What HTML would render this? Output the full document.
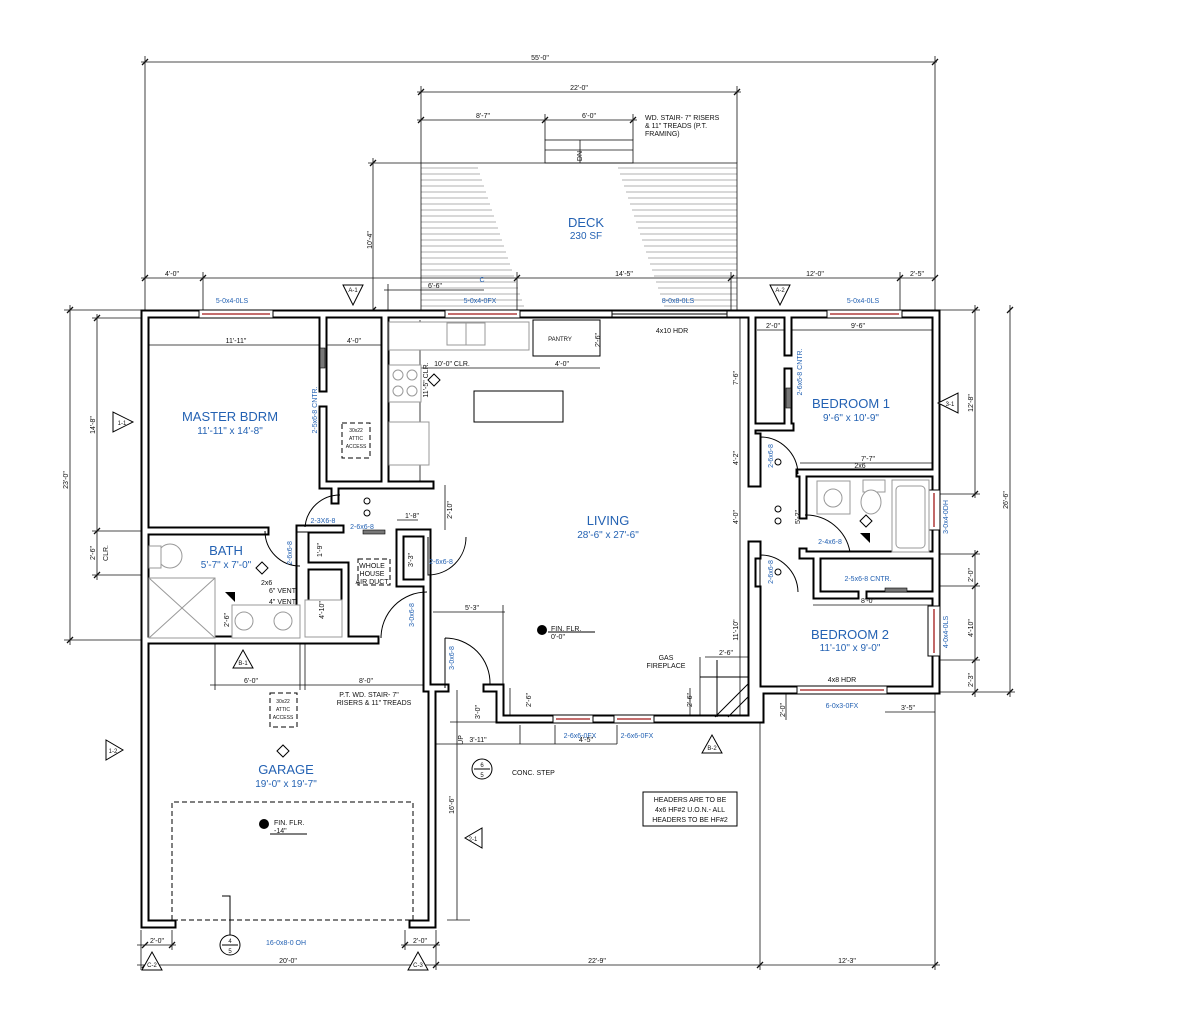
<!DOCTYPE html>
<html><head><meta charset="utf-8"><style>
html,body{margin:0;padding:0;background:#fff;}
svg{display:block;font-family:"Liberation Sans",sans-serif;}
.d{font-size:7px;fill:#111;text-anchor:middle;}
.b{fill:#2462b3;text-anchor:middle;}
.bs{font-size:7px;fill:#2462b3;text-anchor:middle;}
.dl{stroke:#111;stroke-width:0.8;fill:none;}
.h{stroke:#b0b0b0;stroke-width:1;}
.f{stroke:#999;stroke-width:1;fill:#fff;}
</style></head><body>
<svg width="1180" height="1010" viewBox="0 0 1180 1010" xmlns="http://www.w3.org/2000/svg">
<defs>
<g id="w" fill="none">
<path d="M172 924 H145 V314 H936 V690 H757 V719 H500 V688 H487 M445 688 H432 V924 H413"/>
<path d="M323 318 V388 M323 410 V485 H385 M385 318 V485 H430"/>
<path d="M149 531 H265 M300 535 V640 M300 529 H340 M335 485 V500"/>
<path d="M305 566 H345 M345 566 V640 M305 535 V640"/>
<path d="M149 640 H375 M400 533 V583 H427 V533 H400 M427 583 V688"/>
<path d="M752 318 V483 M752 545 V719 M788 318 V352 M788 372 V427 M757 427 H790"/>
<path d="M800 473 H932 M803 473 V515 M803 552 V555 H932 M817 555 V595 H855 M870 595 H932 M760 690 V719"/>
<path d="M757 437 V483 M757 545 V555 M757 590 V688"/>
</g>
</defs>
<!-- deck hatch -->
<g class="h">
<line x1="421" y1="168" x2="478" y2="168"/><line x1="421" y1="174" x2="480" y2="174"/><line x1="421" y1="180" x2="482" y2="180"/><line x1="421" y1="186" x2="484" y2="186"/><line x1="421" y1="192" x2="486" y2="192"/><line x1="421" y1="198" x2="488" y2="198"/><line x1="421" y1="204" x2="490" y2="204"/><line x1="421" y1="210" x2="492" y2="210"/><line x1="421" y1="216" x2="494" y2="216"/><line x1="421" y1="222" x2="496" y2="222"/><line x1="421" y1="228" x2="498" y2="228"/><line x1="421" y1="234" x2="500" y2="234"/><line x1="421" y1="240" x2="502" y2="240"/><line x1="421" y1="246" x2="504" y2="246"/><line x1="421" y1="252" x2="506" y2="252"/><line x1="421" y1="258" x2="508" y2="258"/><line x1="421" y1="264" x2="510" y2="264"/><line x1="421" y1="270" x2="512" y2="270"/><line x1="421" y1="276" x2="514" y2="276"/><line x1="421" y1="282" x2="516" y2="282"/><line x1="421" y1="288" x2="518" y2="288"/><line x1="421" y1="294" x2="520" y2="294"/><line x1="421" y1="300" x2="522" y2="300"/><line x1="421" y1="306" x2="524" y2="306"/>
<line x1="618" y1="168" x2="737" y2="168"/><line x1="620" y1="174" x2="737" y2="174"/><line x1="622" y1="180" x2="737" y2="180"/><line x1="624" y1="186" x2="737" y2="186"/><line x1="626" y1="192" x2="737" y2="192"/><line x1="628" y1="198" x2="737" y2="198"/><line x1="630" y1="204" x2="737" y2="204"/><line x1="632" y1="210" x2="737" y2="210"/><line x1="634" y1="216" x2="737" y2="216"/><line x1="636" y1="222" x2="737" y2="222"/><line x1="638" y1="228" x2="737" y2="228"/><line x1="640" y1="234" x2="737" y2="234"/><line x1="642" y1="240" x2="737" y2="240"/><line x1="644" y1="246" x2="737" y2="246"/><line x1="646" y1="252" x2="737" y2="252"/><line x1="648" y1="258" x2="737" y2="258"/><line x1="650" y1="264" x2="737" y2="264"/><line x1="652" y1="270" x2="737" y2="270"/><line x1="654" y1="276" x2="737" y2="276"/><line x1="656" y1="282" x2="737" y2="282"/><line x1="658" y1="288" x2="737" y2="288"/><line x1="660" y1="294" x2="737" y2="294"/><line x1="662" y1="300" x2="737" y2="300"/><line x1="664" y1="306" x2="737" y2="306"/>
</g>
<g class="dl">
<path d="M421 163 H737 V310 M421 163 V310"/>
<rect x="545" y="140" width="88" height="23"/><line x1="545" y1="150" x2="633" y2="150"/>
<line x1="580" y1="140" x2="580" y2="163"/>
<!-- top dims -->
<path d="M141 62 H937 M145 56 V310 M935 56 V310"/>
<path d="M417 92 H741 M421 86 V163 M737 86 V163"/>
<path d="M417 120 H637 M545 114 V140 M633 114 V140"/>
<path d="M373 158 V310 M368 163 H421"/>
<path d="M141 278 H935 M203 272 V310 M517 272 V310 M731 272 V310 M900 272 V310"/>
<path d="M384 290 H484 M388 284 V310"/>
<!-- left dims -->
<path d="M70 305 V645 M64 310 H145 M64 640 H145"/>
<path d="M97 314 V580 M92 318 H145 M92 531 H145 M92 575 H145"/>
<!-- right dims -->
<path d="M975 305 V498 M940 310 H980 M940 494 H980"/>
<path d="M1010 305 V697 M940 692 H1015"/>
<path d="M975 550 V697 M940 554 H980 M940 586 H980 M940 660 H980"/>
<!-- bottom dims -->
<path d="M137 965 H940 M141 930 V970 M436 930 V970 M760 722 V970 M935 692 V970"/>
<path d="M137 945 H176 M172 930 V950 M401 945 H440 M405 930 V950"/>
<!-- interior dims -->
<path d="M149 345 H323 M323 345 H385 M394 368 H600 M420 320 V485 M445 485 V530 M397 520 H418 M433 612 H505 M503 605 V690"/>
<path d="M757 330 H790 H932 M800 463 H932 M813 605 H932 M740 318 V715 M705 657 H752 M700 657 V717 M690 688 V717 M510 688 V717"/>
<path d="M436 744 H520 V725 M520 744 H617 M555 725 V744 M617 725 V744 M450 722 H500 V690"/>
<path d="M457 690 V920 M447 920 H470"/>
<path d="M215 640 V690 M210 685 H432 M300 640 V690 M305 640 V690"/>
<path d="M786 690 V720 M885 712 H935"/>
</g>
<!-- ticks -->
<g stroke="#111" stroke-width="1.3">
<path d="M142 65 l6 -6 M932 65 l6 -6 M418 95 l6 -6 M734 95 l6 -6 M418 123 l6 -6 M542 123 l6 -6 M630 123 l6 -6 M142 281 l6 -6 M200 281 l6 -6 M514 281 l6 -6 M728 281 l6 -6 M897 281 l6 -6 M932 281 l6 -6 M142 968 l6 -6 M433 968 l6 -6 M757 968 l6 -6 M932 968 l6 -6 M142 948 l6 -6 M169 948 l6 -6 M402 948 l6 -6 M433 948 l6 -6 M370 166 l6 -6 M370 313 l6 -6 M67 313 l6 -6 M67 643 l6 -6 M94 321 l6 -6 M94 534 l6 -6 M94 578 l6 -6 M972 313 l6 -6 M972 497 l6 -6 M1007 313 l6 -6 M1007 695 l6 -6 M972 557 l6 -6 M972 589 l6 -6 M972 663 l6 -6 M972 695 l6 -6"/>
</g>
<!-- walls -->
<use href="#w" stroke="#000" stroke-width="9" stroke-linecap="square"/>
<use href="#w" stroke="#fff" stroke-width="5" stroke-linecap="square"/>
<!-- windows -->
<g fill="#fff" stroke="#000" stroke-width="1">
<rect x="199" y="310" width="74" height="8"/><rect x="445" y="310" width="75" height="8"/><rect x="612" y="311" width="115" height="6"/><rect x="827" y="310" width="75" height="8"/>
<rect x="553" y="715" width="40" height="8"/><rect x="614" y="715" width="40" height="8"/><rect x="797" y="686" width="90" height="8"/>
<rect x="928" y="490" width="12" height="40"/><rect x="928" y="606" width="12" height="50"/>
</g>
<g stroke="#a01818" stroke-width="1.3">
<path d="M202 314 H270 M448 314 H517 M830 314 H899 M556 719 H590 M617 719 H651 M800 690 H884 M934 493 V527 M934 609 V653"/>
</g>
<line x1="612" y1="314" x2="727" y2="314" stroke="#000" stroke-width="1"/>
<!-- doors arcs -->
<g fill="none" stroke="#000" stroke-width="1">
<path d="M265 531 A35 35 0 0 0 300 566"/>
<path d="M340 495 A35 35 0 0 0 305 527"/>
<path d="M428 537 V575 A38 38 0 0 0 466 537"/>
<path d="M427 592 A46 46 0 0 0 381 638"/>
<path d="M445 638 V688 M445 638 A45 45 0 0 1 490 684"/>
<path d="M760 437 V474 M760 437 A38 38 0 0 1 798 474"/>
<path d="M760 555 V592 M760 555 A38 38 0 0 1 798 592"/>
<path d="M805 515 A45 45 0 0 1 850 552"/>
</g>
<g fill="#777" stroke="#000" stroke-width="0.6">
<rect x="320" y="348" width="5" height="20"/><rect x="786" y="388" width="5" height="20"/><rect x="885" y="588" width="22" height="4"/><rect x="363" y="530" width="22" height="4"/>
</g>
<!-- fixtures -->
<g class="f">
<rect x="389" y="322" width="140" height="28"/><rect x="447" y="323" width="38" height="22"/><line x1="466" y1="323" x2="466" y2="345"/>
<rect x="533" y="320" width="67" height="36" stroke="#000"/>
<rect x="389" y="365" width="32" height="37"/><circle cx="398" cy="375" r="5"/><circle cx="412" cy="375" r="5"/><circle cx="398" cy="391" r="5"/><circle cx="412" cy="391" r="5"/>
<rect x="389" y="422" width="40" height="43"/>
<rect x="817" y="481" width="33" height="33"/><circle cx="833" cy="498" r="9"/>
<rect x="863" y="480" width="22" height="12"/><ellipse cx="871" cy="502" rx="10" ry="12"/>
<rect x="892" y="480" width="37" height="72"/><rect x="896" y="486" width="29" height="62" rx="4"/>
<circle cx="170" cy="556" r="12"/><rect x="149" y="546" width="12" height="22"/>
<rect x="149" y="578" width="66" height="60"/><line x1="149" y1="578" x2="215" y2="638"/><line x1="215" y1="578" x2="149" y2="638"/>
<rect x="232" y="605" width="68" height="33"/><circle cx="244" cy="621" r="9"/><circle cx="283" cy="621" r="9"/>
<rect x="305" y="600" width="37" height="37"/>
</g>
<rect x="474" y="391" width="89" height="31" fill="none" stroke="#000" stroke-width="1"/>
<!-- fireplace -->
<g fill="none" stroke="#000" stroke-width="1"><path d="M700 677 H748 M717 660 V717 M715 717 L748 684 M728 717 L748 697"/></g>
<!-- dashed -->
<g fill="none" stroke="#000" stroke-width="1" stroke-dasharray="5,3">
<path d="M172 920 V802 H413 V920 H172"/>
<rect x="342" y="423" width="28" height="35"/><rect x="270" y="693" width="27" height="34"/><rect x="358" y="559" width="32" height="26"/>
</g>
<!-- note box -->
<rect x="643" y="792" width="94" height="34" fill="#fff" stroke="#000" stroke-width="1"/>
<text class="d" x="690" y="802" style="font-size:7px">HEADERS ARE TO BE</text>
<text class="d" x="690" y="812">4x6 HF#2 U.O.N.- ALL</text>
<text class="d" x="690" y="822">HEADERS TO BE HF#2</text>
<!-- section markers -->
<g fill="#fff" stroke="#000" stroke-width="1">
<path d="M343 285 H363 L353 305 Z"/><path d="M770 285 H790 L780 305 Z"/>
<path d="M113 412 V432 L133 422 Z"/><path d="M958 393 V413 L938 403 Z"/>
<path d="M233 668 H253 L243 650 Z"/><path d="M702 753 H722 L712 735 Z"/>
<path d="M106 740 V760 L123 750 Z"/><path d="M482 828 V848 L465 838 Z"/>
<path d="M142 970 H162 L152 952 Z"/><path d="M408 970 H428 L418 952 Z"/>
<circle cx="230" cy="945" r="10"/><circle cx="482" cy="769" r="10"/>
<path d="M222 945 H238 M474 769 H490 M230 935 V900 M222 896 L230 896 L230 902"/>
</g>
<g class="d" style="font-size:6px">
<text x="353" y="292">A-1</text><text x="780" y="292">A-2</text><text x="122" y="425">1-1</text><text x="950" y="406">3-1</text>
<text x="243" y="665">B-1</text><text x="712" y="750">B-2</text><text x="113" y="753">1-2</text><text x="473" y="841">2-1</text>
<text x="152" y="967">C-2</text><text x="418" y="967">C-3</text>
<text x="230" y="943">4</text><text x="230" y="953">5</text><text x="482" y="767">6</text><text x="482" y="777">5</text>
</g>
<!-- room labels -->
<g class="b">
<text x="230" y="421" font-size="13">MASTER BDRM</text><text x="230" y="434" font-size="10">11'-11" x 14'-8"</text>
<text x="226" y="555" font-size="13">BATH</text><text x="226" y="568" font-size="10">5'-7" x 7'-0"</text>
<text x="608" y="525" font-size="13">LIVING</text><text x="608" y="538" font-size="10">28'-6" x 27'-6"</text>
<text x="851" y="408" font-size="13">BEDROOM 1</text><text x="851" y="421" font-size="10">9'-6" x 10'-9"</text>
<text x="850" y="639" font-size="13">BEDROOM 2</text><text x="850" y="651" font-size="10">11'-10" x 9'-0"</text>
<text x="286" y="774" font-size="13">GARAGE</text><text x="286" y="787" font-size="10">19'-0" x 19'-7"</text>
<text x="586" y="227" font-size="13">DECK</text><text x="586" y="239" font-size="10">230 SF</text>
</g>
<g class="bs">
<text x="232" y="303">5-0x4-0LS</text><text x="480" y="303">5-0x4-0FX</text><text x="678" y="303">8-0x8-0LS</text><text x="863" y="303">5-0x4-0LS</text>
<text x="580" y="738">2-6x6-0FX</text><text x="637" y="738">2-6x6-0FX</text><text x="842" y="708">6-0x3-0FX</text><text x="286" y="945">16-0x8-0 OH</text>
<text x="323" y="523">2-3X6-8</text><text x="362" y="529">2-6x6-8</text><text x="441" y="564">2-6x6-8</text><text x="830" y="544">2-4x6-8</text><text x="868" y="581">2-5x6-8 CNTR.</text>
<text transform="translate(317,410) rotate(-90)">2-5x6-8 CNTR.</text>
<text transform="translate(292,553) rotate(-90)">2-6x6-8</text>
<text transform="translate(414,615) rotate(-90)">3-0x6-8</text>
<text transform="translate(454,658) rotate(-90)">3-0x6-8</text>
<text transform="translate(802,372) rotate(-90)">2-6x6-8 CNTR.</text>
<text transform="translate(773,456) rotate(-90)">2-6x6-8</text>
<text transform="translate(773,572) rotate(-90)">2-6x6-8</text>
<text transform="translate(948,517) rotate(-90)">3-0x4-0DH</text>
<text transform="translate(948,632) rotate(-90)">4-0x4-0LS</text>
<text x="482" y="282">C</text>
</g>
<g class="d">
<text x="540" y="60">55'-0"</text><text x="579" y="90">22'-0"</text><text x="483" y="118">8'-7"</text><text x="589" y="118">6'-0"</text>
<text x="172" y="276">4'-0"</text><text x="435" y="288">6'-6"</text><text x="624" y="276">14'-5"</text><text x="815" y="276">12'-0"</text><text x="917" y="276">2'-5"</text>
<text x="288" y="963">20'-0"</text><text x="597" y="963">22'-9"</text><text x="847" y="963">12'-3"</text><text x="157" y="943">2'-0"</text><text x="420" y="943">2'-0"</text>
<text x="236" y="343">11'-11"</text><text x="354" y="343">4'-0"</text><text x="452" y="366">10'-0" CLR.</text><text x="562" y="366">4'-0"</text>
<text x="773" y="328">2'-0"</text><text x="858" y="328">9'-6"</text><text x="868" y="461">7'-7"</text><text x="860" y="468">2x6</text><text x="868" y="603">8'-0"</text>
<text x="472" y="610">5'-3"</text><text x="478" y="742">3'-11"</text><text x="586" y="742">4'-5"</text><text x="726" y="655">2'-6"</text>
<text x="251" y="683">6'-0"</text><text x="366" y="683">8'-0"</text><text x="908" y="710">3'-5"</text><text x="412" y="518">1'-8"</text>
<text x="560" y="341" style="font-size:6px">PANTRY</text><text x="672" y="333">4x10 HDR</text><text x="842" y="682">4x8 HDR</text>
<text x="666" y="660">GAS</text><text x="666" y="668">FIREPLACE</text>
<text x="369" y="697">P.T. WD. STAIR- 7"</text><text x="374" y="705">RISERS &amp; 11" TREADS</text>
<text x="512" y="775" style="text-anchor:start">CONC. STEP</text>
<text x="645" y="120" style="text-anchor:start">WD. STAIR- 7" RISERS</text><text x="645" y="128" style="text-anchor:start">&amp; 11" TREADS (P.T.</text><text x="645" y="136" style="text-anchor:start">FRAMING)</text>
<text x="261" y="585" style="text-anchor:start">2x6</text><text x="269" y="593" style="text-anchor:start">6" VENT</text><text x="269" y="604" style="text-anchor:start">4" VENT</text>
<text x="372" y="568">WHOLE</text><text x="372" y="576">HOUSE</text><text x="372" y="584">AIR DUCT</text>
<text x="356" y="432" style="font-size:5px">30x22</text><text x="356" y="440" style="font-size:5px">ATTIC</text><text x="356" y="448" style="font-size:5px">ACCESS</text>
<text x="283" y="703" style="font-size:5px">30x22</text><text x="283" y="711" style="font-size:5px">ATTIC</text><text x="283" y="719" style="font-size:5px">ACCESS</text>
<text x="551" y="631" style="text-anchor:start">FIN. FLR.</text><text x="551" y="639" style="text-anchor:start">0'-0"</text>
<text x="274" y="825" style="text-anchor:start">FIN. FLR.</text><text x="274" y="833" style="text-anchor:start">-14"</text>
<text transform="translate(372,240) rotate(-90)">10'-4"</text>
<text transform="translate(68,480) rotate(-90)">23'-0"</text>
<text transform="translate(95,425) rotate(-90)">14'-8"</text>
<text transform="translate(95,553) rotate(-90)">2'-6"</text>
<text transform="translate(108,553) rotate(-90)">CLR.</text>
<text transform="translate(973,403) rotate(-90)">12'-8"</text>
<text transform="translate(1008,500) rotate(-90)">26'-6"</text>
<text transform="translate(973,575) rotate(-90)">2'-0"</text>
<text transform="translate(973,628) rotate(-90)">4'-10"</text>
<text transform="translate(973,680) rotate(-90)">2'-3"</text>
<text transform="translate(738,378) rotate(-90)">7'-6"</text>
<text transform="translate(738,458) rotate(-90)">4'-2"</text>
<text transform="translate(738,517) rotate(-90)">4'-0"</text>
<text transform="translate(738,630) rotate(-90)">11'-10"</text>
<text transform="translate(800,517) rotate(-90)">5'-2"</text>
<text transform="translate(452,510) rotate(-90)">2'-10"</text>
<text transform="translate(428,380) rotate(-90)">11'-5" CLR.</text>
<text transform="translate(600,340) rotate(-90)">2'-6"</text>
<text transform="translate(531,700) rotate(-90)">2'-6"</text>
<text transform="translate(692,700) rotate(-90)">2'-6"</text>
<text transform="translate(480,712) rotate(-90)">3'-0"</text>
<text transform="translate(454,805) rotate(-90)">16'-6"</text>
<text transform="translate(785,710) rotate(-90)">2'-0"</text>
<text transform="translate(229,620) rotate(-90)">2'-6"</text>
<text transform="translate(324,610) rotate(-90)">4'-10"</text>
<text transform="translate(322,550) rotate(-90)">1'-9"</text>
<text transform="translate(413,560) rotate(-90)">3'-3"</text>
<text transform="translate(582,156) rotate(-90)">DN</text>
<text transform="translate(463,740) rotate(-90)">UP</text>
</g>
<g fill="none" stroke="#000" stroke-width="1">
<path d="M256 568 l6 -6 l6 6 l-6 6 z M428 380 l6 -6 l6 6 l-6 6 z M860 521 l6 -6 l6 6 l-6 6 z M277 751 l6 -6 l6 6 l-6 6 z"/>
<circle cx="367" cy="501" r="3"/><circle cx="367" cy="513" r="3"/><circle cx="778" cy="462" r="3"/><circle cx="778" cy="509" r="3"/><circle cx="778" cy="521" r="3"/><circle cx="778" cy="572" r="3"/>
<path d="M548 632 H595 M270 834 H307"/>
</g>
<g fill="#000"><circle cx="542" cy="630" r="5"/><circle cx="264" cy="824" r="5"/><path d="M225 592 h10 v10 z"/><path d="M860 533 h10 v10 z"/></g>
</svg>
</body></html>
